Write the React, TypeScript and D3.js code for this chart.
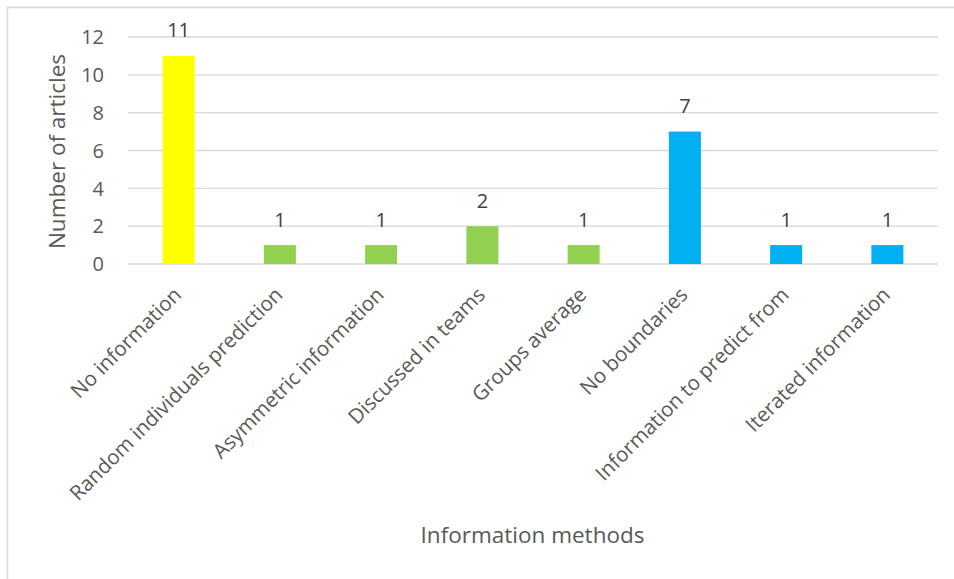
import React from "react";
import * as d3 from "d3";

const categories = [
  "No information",
  "Random individuals prediction",
  "Asymmetric information",
  "Discussed in teams",
  "Groups average",
  "No boundaries",
  "Information to predict from",
  "Iterated information",
];
const values = [11, 1, 1, 2, 1, 7, 1, 1];
const barColors = ["#FFFF00", "#92D050", "#92D050", "#92D050", "#92D050", "#00B0F0", "#00B0F0", "#00B0F0"];
const yTicks = [0, 2, 4, 6, 8, 10, 12];
const yTitle = "Number of articles";
const xTitle = "Information methods";

const W = 954;
const H = 579;
const plot = { left: 128, right: 938, top: 37, bottom: 264 };
const FONT = "'Open Sans', 'Noto Sans', sans-serif";

export default function App() {
  const x = d3
    .scaleBand<string>()
    .domain(categories)
    .range([plot.left, plot.right])
    .paddingInner(0.684)
    .paddingOuter(0.342);
  const y = d3.scaleLinear().domain([0, 12]).range([plot.bottom, plot.top]);

  return (
    <div style={{ position: "absolute", left: 0, top: 0 }}>
      <svg width={W} height={H} style={{ display: "block", background: "#fff" }}>
        <rect x={7.5} y={7.5} width={1000} height={1000} fill="#fff" stroke="#D9D9D9" strokeWidth={1.5} />
        {yTicks.map((t) => (
          <g key={t}>
            <line x1={plot.left} x2={plot.right} y1={y(t)} y2={y(t)} stroke="#D9D9D9" strokeWidth={1.3} />
            <text
              x={104}
              y={y(t)}
              dy="0.36em"
              textAnchor="end"
              fontFamily={FONT}
              fontSize={20}
              fill="#595959"
            >
              {t}
            </text>
          </g>
        ))}
        {categories.map((c, i) => {
          const bx = x(c)!;
          const cx = bx + x.bandwidth() / 2;
          return (
            <g key={c}>
              <rect x={bx} y={y(values[i])} width={x.bandwidth()} height={y(0) - y(values[i])} fill={barColors[i]} />
              <text
                x={cx}
                y={y(values[i]) - 18.5}
                textAnchor="middle"
                fontFamily={FONT}
                fontSize={20}
                fill="#404040"
              >
                {values[i]}
              </text>
              <text
                transform={`translate(${cx + 4},${plot.bottom + 32}) rotate(-45)`}
                textAnchor="end"
                fontFamily={FONT}
                fontSize={20.5}
                fill="#595959"
              >
                {c}
              </text>
            </g>
          );
        })}
        <text
          transform={`translate(65,151.5) rotate(-90)`}
          textAnchor="middle"
          fontFamily={FONT}
          fontSize={22.5}
          fill="#595959"
        >
          {yTitle}
        </text>
        <text x={532.5} y={543} textAnchor="middle" fontFamily={FONT} fontSize={22.5} fill="#595959">
          {xTitle}
        </text>
      </svg>
    </div>
  );
}
